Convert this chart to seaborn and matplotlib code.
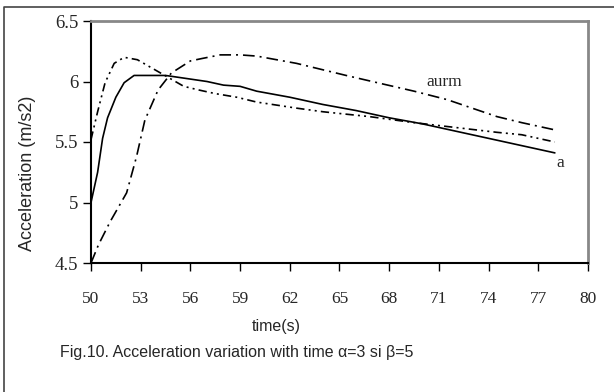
import numpy as np
import pandas as pd
import matplotlib
matplotlib.use("Agg")
import matplotlib.pyplot as plt
from matplotlib.lines import Line2D
import seaborn as sns

# --- data ---
t_a = [50, 50.4, 50.7, 51.0, 51.5, 52.0, 52.6, 54.5, 55, 56, 57, 58, 59, 60,
       62, 64, 66, 68, 70, 72, 74, 76, 78]
acc_a = [5.0, 5.25, 5.53, 5.70, 5.87, 5.99, 6.05, 6.05, 6.04, 6.02, 6.00, 5.97,
         5.96, 5.92, 5.87, 5.81, 5.76, 5.70, 5.65, 5.59, 5.53, 5.47, 5.41]

t_b = [50, 50.4, 50.85, 51.4, 52.0, 52.8, 54.2, 55.6, 56.5, 57.5, 58.8, 60,
       62.4, 64, 66.8, 69.5, 72, 74.5, 76, 78]
acc_b = [5.52, 5.75, 5.99, 6.15, 6.20, 6.18, 6.07, 5.96, 5.93, 5.90, 5.87, 5.83,
         5.78, 5.75, 5.71, 5.66, 5.62, 5.58, 5.56, 5.50]

t_aurm = [50, 50.45, 51.15, 52.15, 52.75, 53.25, 54.05, 54.85, 56, 56.7, 57.8,
          59, 60, 62.4, 65.4, 67.6, 69.5, 71.5, 74.5, 76, 78]
acc_aurm = [4.50, 4.65, 4.84, 5.08, 5.38, 5.68, 5.93, 6.07, 6.17, 6.19, 6.22,
            6.22, 6.21, 6.15, 6.05, 5.98, 5.92, 5.85, 5.71, 5.66, 5.60]

xticks = [50, 53, 56, 59, 62, 65, 68, 71, 74, 77, 80]
yticks = [4.5, 5, 5.5, 6, 6.5]
yticklabels = ['4.5', '5', '5.5', '6', '6.5']

# long format
df = pd.concat([
    pd.DataFrame({'t': t_a, 'acc': acc_a, 'series': 'a'}),
    pd.DataFrame({'t': t_b, 'acc': acc_b, 'series': 'b'}),
    pd.DataFrame({'t': t_aurm, 'acc': acc_aurm, 'series': 'aurm'}),
])

sns.set_style("ticks")
plt.rcParams['font.family'] = ['Liberation Sans', 'DejaVu Sans']

fig = plt.figure(figsize=(6.14, 3.92), dpi=100)
ax = fig.add_axes([91/614, 1 - 263/392, (588 - 91)/614, (263 - 21)/392])

dashes = {'a': '', 'b': (5, 2.5, 1.2, 2.5, 1.2, 2.5), 'aurm': (7, 3, 1.2, 3)}
sns.lineplot(data=df, x='t', y='acc', style='series', dashes=dashes,
             color='black', lw=1.2, estimator=None, sort=False,
             legend=False, ax=ax)

ax.set_xlim(50, 80)
ax.set_ylim(4.5, 6.5)
ax.set_xticks(xticks)
ax.set_xticklabels([str(x) for x in xticks], family='Liberation Serif', fontsize=12.5)
ax.set_yticks(yticks)
ax.set_yticklabels(yticklabels, family='Liberation Serif', fontsize=13.5)
ax.tick_params(axis='x', direction='out', length=6, width=1, pad=14, color='black')
ax.tick_params(axis='y', direction='out', length=6, width=1, pad=3, color='black')
ax.set_xlabel('')
ax.set_ylabel('')

for side in ['left', 'bottom']:
    ax.spines[side].set_color('black')
    ax.spines[side].set_linewidth(1.5)
for side in ['top', 'right']:
    ax.spines[side].set_visible(True)
    ax.spines[side].set_color('#888888')
    ax.spines[side].set_linewidth(2.0)

# curve labels
ax.text(71.3, 6.0, 'aurm', family='Liberation Serif', fontsize=12.5,
        ha='center', va='center')
ax.text(78.1, 5.33, 'a', family='Liberation Serif', fontsize=12.5,
        ha='left', va='center')

# axis titles and caption
fig.text(28/614, 1 - 173/392, 'Acceleration (m/s2)', rotation=90,
         ha='center', va='center', fontsize=13)
fig.text(276/614, 1 - 326/392, 'time(s)', ha='center', va='center', fontsize=11.5)
fig.text(60/614, 1 - 352/392, 'Fig.10. Acceleration variation with time α=3 si β=5',
         ha='left', va='center', fontsize=11.5)

# outer frame: only top and left edges are inside the picture
fig.add_artist(Line2D([4/614, 4/614, 1], [0, 1 - 7/392, 1 - 7/392],
                      transform=fig.transFigure, color='#444444', lw=1.2))

plt.savefig('out.png', dpi=100)
